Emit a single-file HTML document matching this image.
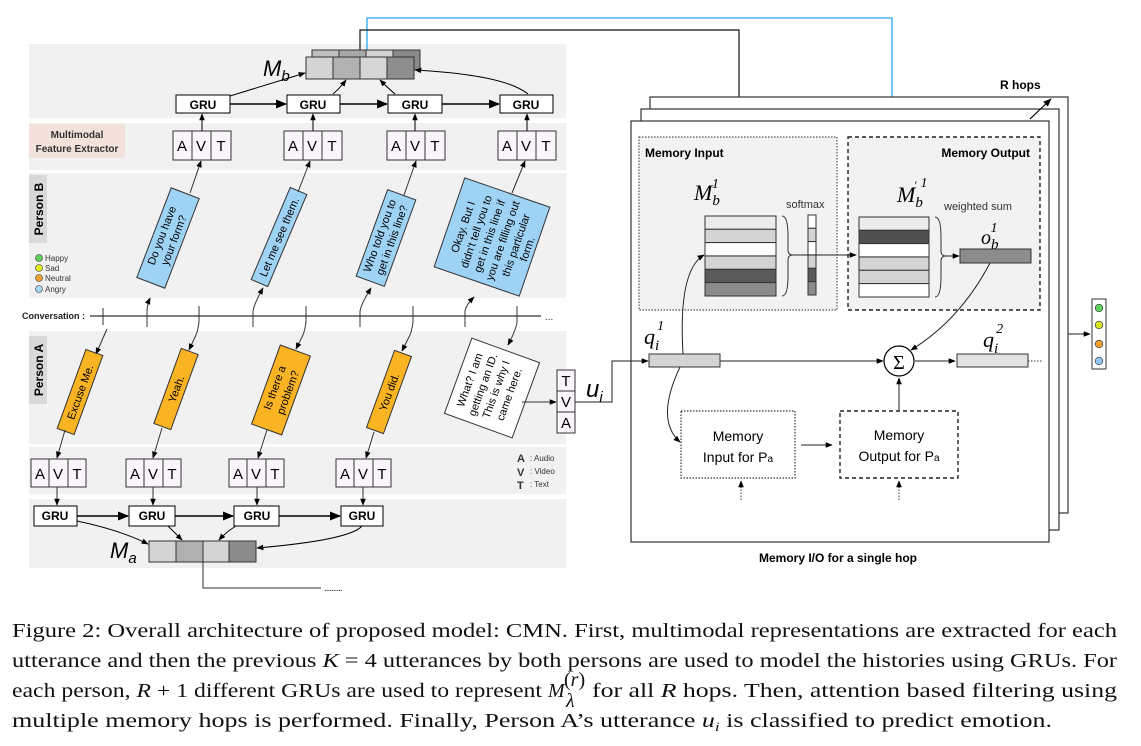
<!DOCTYPE html>
<html><head><meta charset="utf-8"><style>
html,body{margin:0;padding:0;background:#fff;}
svg{display:block;font-family:"Liberation Sans",sans-serif;}
.cap{font-family:"Liberation Serif",serif;font-size:20px;fill:#111;}
.gru{font-size:12px;font-weight:bold;}
.avt{font-size:15px;}
.mi{font-family:"Liberation Serif",serif;font-style:italic;}
</style></head><body>
<svg width="1141" height="746" viewBox="0 0 1141 746" xmlns="http://www.w3.org/2000/svg">
<defs>
<marker id="ar" viewBox="0 0 10 10" refX="9" refY="5" markerWidth="7" markerHeight="7" orient="auto-start-reverse"><path d="M0,1 L10,5 L0,9 z" fill="#000"/></marker>
<marker id="arb" viewBox="0 0 10 10" refX="9" refY="5" markerWidth="6" markerHeight="6" orient="auto"><path d="M0,1 L10,5 L0,9 z" fill="#29a8f0"/></marker>
</defs>
<!-- bands -->
<rect x="29" y="44" width="537" height="74" fill="#f1f1f1"/>
<rect x="29" y="123" width="537" height="47" fill="#f1f1f1"/>
<rect x="29" y="173" width="537" height="125" fill="#f1f1f1"/>
<rect x="29" y="331" width="537" height="113" fill="#f1f1f1"/>
<rect x="29" y="447" width="537" height="47" fill="#f1f1f1"/>
<rect x="29" y="499" width="537" height="69" fill="#f1f1f1"/>

<!-- top connectors -->
<polyline points="367,52 367,18 892,18 892,216" fill="none" stroke="#29a8f0" stroke-width="1.3" marker-end="url(#arb)"/>
<polyline points="360,57 360,30 739,30 739,214" fill="none" stroke="#111" stroke-width="1.2" marker-end="url(#ar)"/>

<!-- Mb -->
<g stroke="#333" stroke-width="1">
<rect x="312" y="50" width="27" height="20" fill="#c0c0c0"/><rect x="339" y="50" width="27" height="20" fill="#a8a8a8"/><rect x="366" y="50" width="27" height="20" fill="#d4d4d4"/><rect x="393" y="50" width="27" height="20" fill="#8a8a8a"/>
<rect x="306" y="57" width="27" height="22" fill="#d4d4d4"/><rect x="333" y="57" width="27" height="22" fill="#b2b2b2"/><rect x="360" y="57" width="27" height="22" fill="#d6d6d6"/><rect x="387" y="57" width="27" height="22" fill="#8e8e8e"/>
</g>
<text x="263" y="76" font-size="22" font-style="italic">M<tspan font-size="15" dy="5">b</tspan></text>

<!-- top GRUs -->
<g stroke="#000" stroke-width="1" fill="#fff">
<rect x="176" y="95" width="54" height="18"/><rect x="287" y="95" width="53" height="18"/><rect x="388" y="95" width="54" height="18"/><rect x="500" y="95" width="53" height="18"/>
</g>
<g class="gru" text-anchor="middle"><text x="203" y="109">GRU</text><text x="313" y="109">GRU</text><text x="415" y="109">GRU</text><text x="526" y="109">GRU</text></g>
<g stroke="#000" stroke-width="1.6" fill="none" marker-end="url(#ar)">
<line x1="230" y1="104" x2="286" y2="104"/><line x1="340" y1="104" x2="387" y2="104"/><line x1="442" y1="104" x2="499" y2="104"/>
</g>
<g stroke="#000" stroke-width="1" fill="none" marker-end="url(#ar)">
<line x1="230" y1="96" x2="305" y2="73"/>
<path d="M333,94 Q340,88 346,80"/>
<path d="M395,94 Q388,88 380,80"/>
<path d="M528,94 Q505,75 415,70"/>
</g>

<!-- feature extractor -->
<rect x="29" y="124" width="96" height="34" fill="#f3e2dc"/>
<text x="77" y="138" font-size="10" text-anchor="middle" font-weight="bold" fill="#333">Multimodal</text>
<text x="77" y="152" font-size="10" text-anchor="middle" font-weight="bold" fill="#333">Feature Extractor</text>

<!-- AVT top -->
<g stroke="#333" stroke-width="1" fill="#f9f5fb">
<rect x="173" y="131" width="19" height="29"/><rect x="192" y="131" width="19" height="29"/><rect x="211" y="131" width="20" height="29"/>
<rect x="284" y="131" width="19" height="29"/><rect x="303" y="131" width="19" height="29"/><rect x="322" y="131" width="20" height="29"/>
<rect x="387" y="131" width="19" height="29"/><rect x="406" y="131" width="19" height="29"/><rect x="425" y="131" width="20" height="29"/>
<rect x="498" y="131" width="19" height="29"/><rect x="517" y="131" width="19" height="29"/><rect x="536" y="131" width="20" height="29"/>
</g>
<g class="avt" text-anchor="middle">
<text x="182" y="151">A</text><text x="201" y="151">V</text><text x="221" y="151">T</text>
<text x="293" y="151">A</text><text x="312" y="151">V</text><text x="332" y="151">T</text>
<text x="396" y="151">A</text><text x="415" y="151">V</text><text x="435" y="151">T</text>
<text x="507" y="151">A</text><text x="526" y="151">V</text><text x="546" y="151">T</text>
</g>
<g stroke="#000" stroke-width="1" marker-end="url(#ar)">
<line x1="202" y1="131" x2="202" y2="114"/><line x1="313" y1="131" x2="313" y2="114"/><line x1="415" y1="131" x2="415" y2="114"/><line x1="527" y1="131" x2="527" y2="114"/>
</g>

<!-- Person B label -->
<rect x="29" y="175" width="18" height="68" fill="#d9d9d9"/>
<text transform="translate(43,209) rotate(-90)" font-size="12" font-weight="bold" text-anchor="middle">Person B</text>
<g font-size="8" fill="#333">
<circle cx="39" cy="258" r="3.5" fill="#5fd35f" stroke="#333" stroke-width=".6"/><text x="45" y="261">Happy</text>
<circle cx="39" cy="268" r="3.5" fill="#e0ee20" stroke="#333" stroke-width=".6"/><text x="45" y="271">Sad</text>
<circle cx="39" cy="278" r="3.5" fill="#f0a030" stroke="#333" stroke-width=".6"/><text x="45" y="281">Neutral</text>
<circle cx="39" cy="289" r="3.5" fill="#a8d8f5" stroke="#333" stroke-width=".6"/><text x="45" y="292">Angry</text>
</g>

<!-- Blue boxes -->
<g stroke="#333" stroke-width="1" fill="#9fd3f5" font-size="11">
<g transform="translate(168,238) rotate(-69)"><rect x="-48" y="-15" width="96" height="30"/><text x="0" y="-3" text-anchor="middle" stroke="none" fill="#000">Do you have</text><text x="0" y="10" text-anchor="middle" stroke="none" fill="#000">your form?</text></g>
<g transform="translate(279,237) rotate(-67)"><rect x="-50" y="-9" width="100" height="18"/><text x="0" y="4" text-anchor="middle" stroke="none" fill="#000">Let me see them.</text></g>
<g transform="translate(386,238) rotate(-70)"><rect x="-46" y="-15" width="92" height="30"/><text x="0" y="-3" text-anchor="middle" stroke="none" fill="#000">Who told you to</text><text x="0" y="10" text-anchor="middle" stroke="none" fill="#000">get in this line?</text></g>
<g transform="translate(492,237) rotate(-71)"><rect x="-47" y="-45" width="94" height="90"/>
<g stroke="none" fill="#000" text-anchor="middle"><text x="0" y="-27">Okay. But I</text><text x="0" y="-13">didn't tell you to</text><text x="0" y="1">get in this line if</text><text x="0" y="15">you are filling out</text><text x="0" y="29">this particular</text><text x="0" y="41">form.</text></g></g>
</g>

<!-- conversation -->
<text x="22" y="319" font-size="9" font-weight="bold" fill="#222">Conversation :</text>
<line x1="90" y1="316" x2="541" y2="316" stroke="#333" stroke-width="1.2"/>
<text x="545" y="320" font-size="10" fill="#333">...</text>
<g stroke="#333" stroke-width="1" fill="none">
<line x1="103" y1="308" x2="103" y2="325"/>
<path d="M147,327 L147,312 Q147,305 150,298" marker-end="url(#ar)"/>
<path d="M199,306 L199,322 Q198,330 196,335"/>
<path d="M253,327 L253,312 Q253,306 263,288" marker-end="url(#ar)"/>
<path d="M306,306 L306,322 Q305,330 303,335"/>
<path d="M360,327 L360,312 Q360,306 371,288" marker-end="url(#ar)"/>
<path d="M413,306 L413,322 Q412,330 410,335"/>
<path d="M465,327 L465,312 Q465,306 474,297" marker-end="url(#ar)"/>
<path d="M517,306 L517,322 Q516,330 508,345" marker-end="url(#ar)"/>
<path d="M107,329 L96,354" marker-end="url(#ar)"/>
<path d="M196,335 L189,350" marker-end="url(#ar)"/>
<path d="M303,335 L296,349" marker-end="url(#ar)"/>
<path d="M410,335 L402,351" marker-end="url(#ar)"/>
<line x1="190" y1="193" x2="201" y2="161" marker-end="url(#ar)"/>
<line x1="298" y1="192" x2="310" y2="161" marker-end="url(#ar)"/>
<line x1="404" y1="195" x2="416" y2="161" marker-end="url(#ar)"/>
<line x1="512" y1="193" x2="525" y2="161" marker-end="url(#ar)"/>
</g>

<!-- Person A -->
<rect x="29" y="336" width="18" height="68" fill="#d9d9d9"/>
<text transform="translate(43,370) rotate(-90)" font-size="12" font-weight="bold" text-anchor="middle">Person A</text>
<g stroke="#333" stroke-width="1" fill="#fab423" font-size="11">
<g transform="translate(80,392) rotate(-70)"><rect x="-42" y="-9" width="84" height="18"/><text x="0" y="4" text-anchor="middle" stroke="none" fill="#000">Excuse Me.</text></g>
<g transform="translate(176,389) rotate(-70)"><rect x="-40" y="-9" width="80" height="18"/><text x="0" y="4" text-anchor="middle" stroke="none" fill="#000">Yeah.</text></g>
<g transform="translate(281,390) rotate(-70)"><rect x="-42" y="-16" width="84" height="32"/><text x="0" y="-3" text-anchor="middle" stroke="none" fill="#000">Is there a</text><text x="0" y="11" text-anchor="middle" stroke="none" fill="#000">problem?</text></g>
<g transform="translate(389,392) rotate(-70)"><rect x="-41" y="-9" width="82" height="18"/><text x="0" y="4" text-anchor="middle" stroke="none" fill="#000">You did.</text></g>
<g transform="translate(492,388) rotate(-70)" fill="#fff"><rect x="-40" y="-36" width="80" height="72"/>
<g stroke="none" fill="#000" text-anchor="middle"><text x="0" y="-20">What? I am</text><text x="0" y="-6">getting an ID.</text><text x="0" y="8">This is why I</text><text x="0" y="22">came here.</text></g></g>
</g>
<!-- TVA -->
<g stroke="#333" stroke-width="1" fill="#f9f5fb"><rect x="557" y="370" width="18" height="21"/><rect x="557" y="391" width="18" height="21"/><rect x="557" y="412" width="18" height="21"/></g>
<g class="avt" text-anchor="middle"><text x="566" y="386">T</text><text x="566" y="407">V</text><text x="566" y="428">A</text></g>
<line x1="522" y1="402" x2="556" y2="402" stroke="#333" stroke-width="1" marker-end="url(#ar)"/>
<text x="586" y="397" font-size="24" font-style="italic">u<tspan font-size="15" dy="5">i</tspan></text>

<!-- bottom AVT -->
<g stroke="#333" stroke-width="1" fill="#f9f5fb">
<rect x="31" y="459" width="18" height="28"/><rect x="49" y="459" width="19" height="28"/><rect x="68" y="459" width="18" height="28"/>
<rect x="126" y="459" width="18" height="28"/><rect x="144" y="459" width="19" height="28"/><rect x="163" y="459" width="18" height="28"/>
<rect x="229" y="459" width="18" height="28"/><rect x="247" y="459" width="19" height="28"/><rect x="266" y="459" width="18" height="28"/>
<rect x="336" y="459" width="18" height="28"/><rect x="354" y="459" width="19" height="28"/><rect x="373" y="459" width="18" height="28"/>
</g>
<g class="avt" text-anchor="middle">
<text x="40" y="479">A</text><text x="58" y="479">V</text><text x="77" y="479">T</text>
<text x="135" y="479">A</text><text x="153" y="479">V</text><text x="172" y="479">T</text>
<text x="238" y="479">A</text><text x="256" y="479">V</text><text x="275" y="479">T</text>
<text x="345" y="479">A</text><text x="363" y="479">V</text><text x="382" y="479">T</text>
</g>
<g stroke="#333" stroke-width="1" fill="none" marker-end="url(#ar)">
<line x1="65" y1="430" x2="57" y2="458"/><line x1="162" y1="428" x2="153" y2="458"/><line x1="267" y1="430" x2="258" y2="458"/><line x1="374" y1="432" x2="366" y2="458"/>
<line x1="57" y1="487" x2="57" y2="505"/><line x1="153" y1="487" x2="153" y2="505"/><line x1="257" y1="487" x2="257" y2="505"/><line x1="363" y1="487" x2="363" y2="505"/>
</g>
<g font-size="8" fill="#333"><text x="517" y="462" font-weight="bold" font-size="11">A</text><text x="530" y="461">: Audio</text>
<text x="517" y="476" font-weight="bold" font-size="11">V</text><text x="530" y="474">: Video</text>
<text x="517" y="489" font-weight="bold" font-size="11">T</text><text x="530" y="487">: Text</text></g>

<!-- bottom GRUs -->
<g stroke="#000" stroke-width="1" fill="#fff">
<rect x="34" y="506" width="43" height="20"/><rect x="129" y="506" width="46" height="20"/><rect x="234" y="506" width="45" height="20"/><rect x="341" y="506" width="42" height="20"/>
</g>
<g class="gru" text-anchor="middle"><text x="55" y="520">GRU</text><text x="152" y="520">GRU</text><text x="257" y="520">GRU</text><text x="362" y="520">GRU</text></g>
<g stroke="#000" stroke-width="1.6" fill="none" marker-end="url(#ar)">
<line x1="77" y1="516" x2="128" y2="516"/><line x1="175" y1="516" x2="233" y2="516"/><line x1="279" y1="516" x2="340" y2="516"/>
</g>
<g stroke="#000" stroke-width="1" fill="none" marker-end="url(#ar)">
<path d="M77,521 Q120,530 148,544"/>
<path d="M168,526 Q175,533 182,540"/>
<path d="M236,526 Q226,532 219,540"/>
<path d="M362,526 Q350,540 257,548"/>
</g>
<g stroke="#333" stroke-width="1">
<rect x="149" y="541" width="27" height="21" fill="#d4d4d4"/><rect x="176" y="541" width="27" height="21" fill="#b0b0b0"/><rect x="203" y="541" width="26" height="21" fill="#d4d4d4"/><rect x="229" y="541" width="27" height="21" fill="#8c8c8c"/>
</g>
<text x="110" y="558" font-size="22" font-style="italic">M<tspan font-size="15" dy="5">a</tspan></text>
<polyline points="203,562 203,588 321,588" fill="none" stroke="#333" stroke-width="1"/>
<text x="324" y="591" font-size="10" fill="#333" letter-spacing="-1">..........</text>

<!-- right frames -->
<rect x="650" y="97" width="418" height="416" fill="#fff" stroke="#333" stroke-width="1.2"/>
<rect x="641" y="109" width="418" height="421" fill="#fff" stroke="#333" stroke-width="1.2"/>
<rect x="631" y="121" width="418" height="421" fill="#fff" stroke="#333" stroke-width="1.2"/>
<text x="1000" y="89" font-size="12" font-weight="bold">R hops</text>
<line x1="1030" y1="119" x2="1051" y2="99" stroke="#000" stroke-width="1.2" marker-end="url(#ar)"/>
<text x="838" y="562" font-size="12" font-weight="bold" text-anchor="middle">Memory I/O for a single hop</text>

<rect x="639" y="137" width="198" height="173" fill="#f2f2f2" stroke="#555" stroke-width="1.2" stroke-dasharray="1.5,1.5"/>
<rect x="848" y="137" width="192" height="173" fill="#f2f2f2" stroke="#222" stroke-width="1.4" stroke-dasharray="4,3"/>
<text x="645" y="157" font-size="12" font-weight="bold">Memory Input</text>
<text x="1030" y="157" font-size="12" font-weight="bold" text-anchor="end">Memory Output</text>
<text x="786" y="208" font-size="11" fill="#333">softmax</text>
<text x="944" y="210" font-size="11" fill="#333">weighted sum</text>

<text x="694" y="200" class="mi" font-size="22">M<tspan font-size="15" dy="5">b</tspan><tspan font-size="14" dx="-8" dy="-17">1</tspan></text>
<text x="897" y="202" class="mi" font-size="22">M<tspan font-size="15" dy="5">b</tspan><tspan font-size="12" dx="-9" dy="-18">′</tspan><tspan font-size="14" dx="4" dy="-2">1</tspan></text>
<text x="981" y="244" class="mi" font-size="20">o<tspan font-size="15" dy="5">b</tspan><tspan font-size="14" dx="-8" dy="-17">1</tspan></text>

<g stroke="#333" stroke-width="1">
<rect x="705" y="216" width="71" height="13.3" fill="#ececec"/><rect x="705" y="229.3" width="71" height="13.3" fill="#d4d4d4"/><rect x="705" y="242.6" width="71" height="13.3" fill="#fff"/><rect x="705" y="256" width="71" height="13.3" fill="#d4d4d4"/><rect x="705" y="269.3" width="71" height="13.3" fill="#5a5a5a"/><rect x="705" y="282.6" width="71" height="13.4" fill="#8c8c8c"/>
<rect x="808" y="215" width="8" height="13.3" fill="#fff"/><rect x="808" y="228.3" width="8" height="13.3" fill="#d4d4d4"/><rect x="808" y="241.6" width="8" height="13.3" fill="#fff"/><rect x="808" y="255" width="8" height="13.3" fill="#d4d4d4"/><rect x="808" y="268.3" width="8" height="13.3" fill="#5a5a5a"/><rect x="808" y="281.6" width="8" height="13.4" fill="#8c8c8c"/>
<rect x="859" y="217" width="70" height="13.3" fill="#ececec"/><rect x="859" y="230.3" width="70" height="13.3" fill="#505050"/><rect x="859" y="243.6" width="70" height="13.3" fill="#fff"/><rect x="859" y="257" width="70" height="13.3" fill="#d4d4d4"/><rect x="859" y="270.3" width="70" height="13.3" fill="#d4d4d4"/><rect x="859" y="283.6" width="70" height="13.4" fill="#fff"/>
<rect x="960" y="249" width="71" height="14" fill="#8c8c8c"/>
<rect x="649" y="354" width="71" height="13" fill="#d4d4d4"/>
<rect x="957" y="354" width="71" height="13" fill="#e2e2e2"/>
</g>
<g fill="none" stroke="#333" stroke-width="1">
<path d="M782,216 Q788,216 788,236 L788,250 Q788,255 793,255 Q788,255 788,260 L788,276 Q788,296 782,296"/>
<path d="M935,217 Q941,217 941,237 L941,251 Q941,256 946,256 Q941,256 941,261 L941,277 Q941,297 935,297"/>
</g>
<line x1="793" y1="255" x2="856" y2="255" stroke="#222" stroke-width="1" marker-end="url(#ar)"/>
<line x1="946" y1="256" x2="959" y2="256" stroke="#222" stroke-width="1" marker-end="url(#ar)"/>

<text x="644" y="344" class="mi" font-size="22">q<tspan font-size="15" dy="6">i</tspan><tspan font-size="14" dx="-2" dy="-20">1</tspan></text>
<text x="983" y="347" class="mi" font-size="22">q<tspan font-size="15" dy="6">i</tspan><tspan font-size="14" dx="-2" dy="-20">2</tspan></text>
<circle cx="899" cy="361" r="15" fill="#fff" stroke="#000" stroke-width="1.2"/>
<text x="899" y="369" font-size="20" text-anchor="middle" font-family="Liberation Serif">Σ</text>
<g stroke="#222" stroke-width="1" fill="none" marker-end="url(#ar)">
<polyline points="575,402 612,402 612,361 648,361"/>
<line x1="720" y1="361" x2="883" y2="361"/>
<line x1="915" y1="361" x2="955" y2="361"/>
<line x1="899" y1="411" x2="899" y2="378"/>
<line x1="801" y1="445" x2="832" y2="445"/>
<path d="M683,354 Q678,270 704,255"/>
<path d="M680,367 Q655,420 680,442"/>
<path d="M990,263 Q960,320 911,350"/>
<line x1="1068" y1="334" x2="1090" y2="334"/>
</g>
<line x1="1028" y1="361" x2="1043" y2="361" stroke="#333" stroke-dasharray="1.5,1.5"/>
<g stroke="#333" stroke-width="1" stroke-dasharray="1.5,1.5" fill="none" marker-end="url(#ar)">
<line x1="741" y1="500" x2="741" y2="481"/><line x1="899" y1="500" x2="899" y2="481"/>
</g>
<rect x="681" y="411" width="114" height="67" fill="#fff" stroke="#333" stroke-width="1.2" stroke-dasharray="1.5,1.5"/>
<rect x="840" y="411" width="118" height="67" fill="#fff" stroke="#222" stroke-width="1.4" stroke-dasharray="4,3"/>
<g font-size="14" text-anchor="middle"><text x="738" y="441">Memory</text><text x="738" y="462">Input for P<tspan font-size="10">a</tspan></text>
<text x="899" y="440">Memory</text><text x="899" y="461">Output for P<tspan font-size="10">a</tspan></text></g>

<rect x="1092" y="299" width="14" height="70" fill="#fff" stroke="#333" stroke-width="1"/>
<g stroke="#333" stroke-width=".7"><circle cx="1099" cy="308" r="3.8" fill="#5fd35f"/><circle cx="1099" cy="325" r="3.8" fill="#d7e81d"/><circle cx="1099" cy="344" r="3.8" fill="#f0a030"/><circle cx="1099" cy="361" r="3.8" fill="#8ec8f0"/></g>

<!-- caption -->
<text class="cap" x="12" y="637" textLength="1105" lengthAdjust="spacingAndGlyphs">Figure 2: Overall architecture of proposed model: CMN. First, multimodal representations are extracted for each</text>
<text class="cap" x="12" y="667" textLength="1105" lengthAdjust="spacingAndGlyphs">utterance and then the previous <tspan font-style="italic">K</tspan> = 4 utterances by both persons are used to model the histories using GRUs. For</text>
<text class="cap" x="12" y="697" textLength="530" lengthAdjust="spacingAndGlyphs">each person, <tspan font-style="italic">R</tspan> + 1 different GRUs are used to represent</text>
<text class="cap" x="548" y="697" font-style="italic">M</text><text class="cap" x="566" y="707" font-size="13" font-style="italic">λ</text><text class="cap" x="564" y="686" font-size="13">(<tspan font-style="italic">r</tspan>)</text>
<text class="cap" x="592" y="697" textLength="525" lengthAdjust="spacingAndGlyphs">for all <tspan font-style="italic">R</tspan> hops. Then, attention based filtering using</text>
<text class="cap" x="12" y="727" textLength="1040" lengthAdjust="spacingAndGlyphs">multiple memory hops is performed. Finally, Person A’s utterance <tspan font-style="italic">u<tspan font-size="13" dy="4">i</tspan></tspan><tspan dy="-4"> is classified to predict emotion.</tspan></text>
</svg>
</body></html>
